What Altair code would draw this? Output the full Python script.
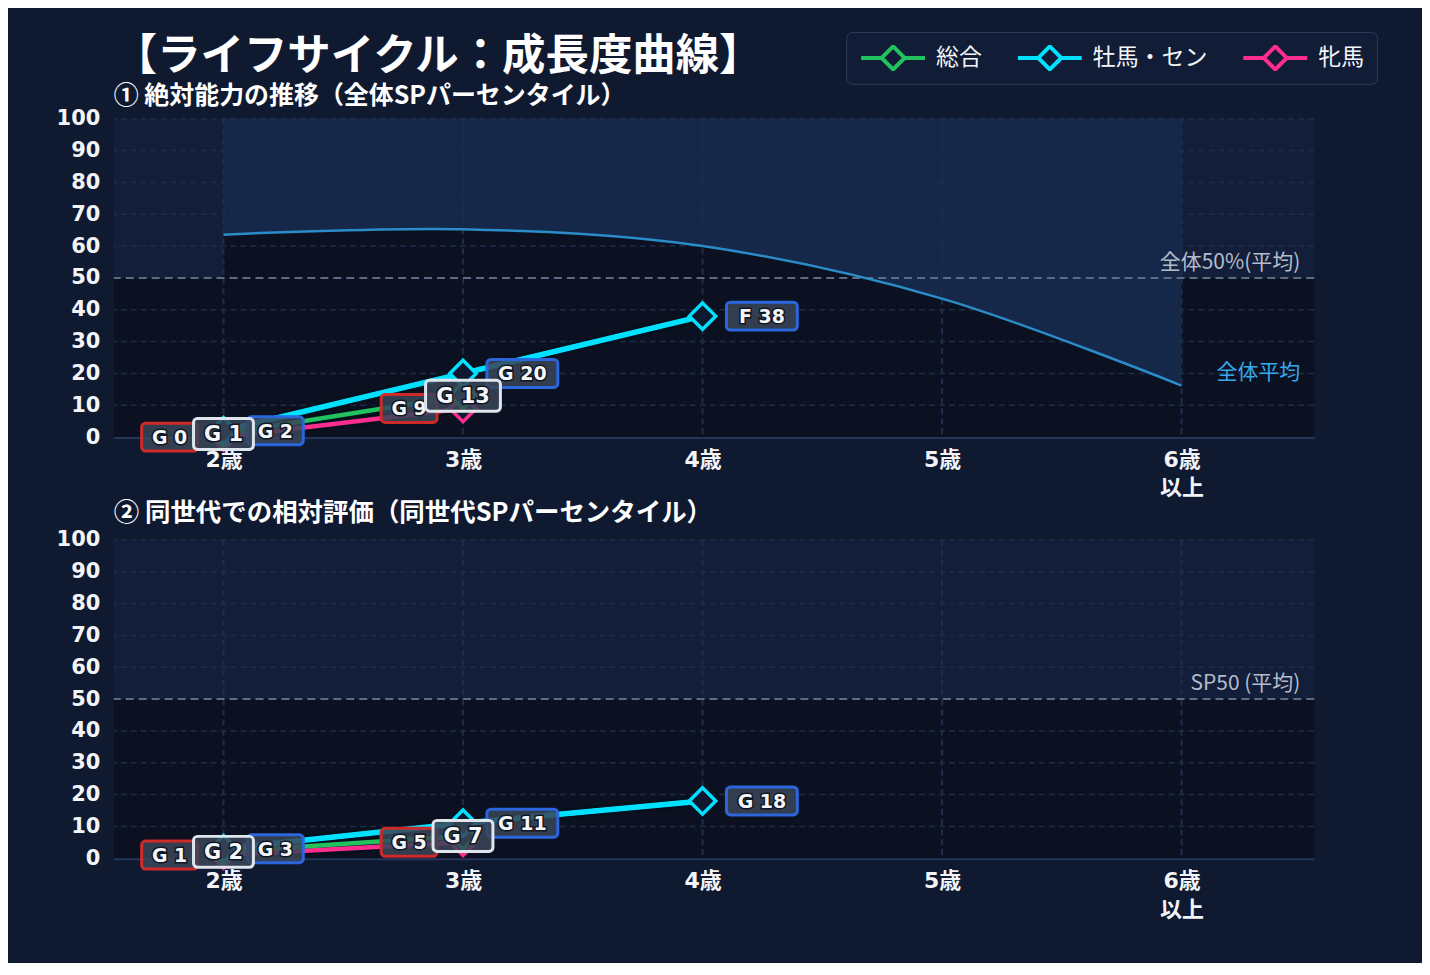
import json
import altair as alt
import pandas as pd

# ---------------- data ----------------
SERIES = ["総合", "牡馬・セン", "牝馬"]
LINE_COLORS = ["#22c35e", "#00e1ff", "#ff2d8d"]
BOX_STROKES = {"総合": "#dfe5ec", "牡馬・セン": "#2b66dc", "牝馬": "#cf2a2a"}

TICK_AGES = [2, 3, 4, 5, 6]
TICK_LABELS = ["2歳", "3歳", "4歳", "5歳", "6歳\n以上"]
Y_TICKS = [0, 10, 20, 30, 40, 50, 60, 70, 80, 90, 100]
X_MIN, X_MAX = 1.542, 6.554

# panel 1: absolute ability (overall SP percentile)
abs_ages = {"総合": [2, 3], "牡馬・セン": [2, 3, 4], "牝馬": [2, 3]}
abs_vals = {"総合": [1, 13], "牡馬・セン": [2, 20, 38], "牝馬": [0, 9]}
abs_grades = {"総合": ["G", "G"], "牡馬・セン": ["G", "G", "F"], "牝馬": ["G", "G"]}

# overall average curve
curve_ages = [2, 3, 4, 5, 6]
curve_vals = [63.6, 65.3, 60.0, 43.5, 16.2]

# panel 2: relative within generation
rel_ages = {"総合": [2, 3], "牡馬・セン": [2, 3, 4], "牝馬": [2, 3]}
rel_vals = {"総合": [2, 7], "牡馬・セン": [3, 11, 18], "牝馬": [1, 5]}
rel_grades = {"総合": ["G", "G"], "牡馬・セン": ["G", "G", "G"], "牝馬": ["G", "G"]}

TITLE = "【ライフサイクル：成長度曲線】"
SUB1 = "① 絶対能力の推移（全体SPパーセンタイル）"
SUB2 = "② 同世代での相対評価（同世代SPパーセンタイル）"

# ---------------- style ----------------
BG = "#0f1a30"
UPPER = "#131f3a"
LOWER = "#0b1121"
LIGHT = "#15284a"
GRID = "#1e2c49"
JP = "Noto Sans CJK JP"
NUM = "DejaVu Sans, Noto Sans CJK JP"
CURVE_INTERP = "cardinal"


def make_df(ages, vals, grades):
    rows = []
    for s in ["牝馬", "総合", "牡馬・セン"]:
        for a, v, g in zip(ages[s], vals[s], grades[s]):
            rows.append({"age": a, "value": v, "series": s, "label": f"{g} {v}"})
    return pd.DataFrame(rows)


label_map = {str(k): v.replace("\n", "|") for k, v in zip(TICK_AGES, TICK_LABELS)}
x_label_expr = "split(" + json.dumps(label_map, ensure_ascii=False) + "[datum.value + ''], '|')"

xscale = alt.Scale(domain=[X_MIN, X_MAX], nice=False, zero=False)
yscale = alt.Scale(domain=[0, 100], nice=False, zero=False)
x_axis = alt.Axis(values=TICK_AGES, labelExpr=x_label_expr, labelFontSize=22, labelFontWeight="bold",
                  labelColor="#f2f4f8", labelFont=NUM, labelPadding=12, tickSize=0,
                  domainColor="#25365a", domainWidth=3, grid=False, title=None,
                  labelLineHeight=29, labelBaseline="top")
y_axis = alt.Axis(values=Y_TICKS, labelFontSize=21, labelFontWeight="bold", labelColor="#f2f4f8",
                  labelFont=NUM, labelPadding=14, tickSize=0, domain=False, grid=False, title=None)


def X(field):
    return alt.X(field, type="quantitative", scale=xscale, axis=x_axis)


def Y(field):
    return alt.Y(field, type="quantitative", scale=yscale, axis=y_axis)


def panel(df, ref_text, curve=None, legend=None, headers=None, title=None):
    layers = []
    bands = pd.DataFrame({"x0": [X_MIN, X_MIN], "x1": [X_MAX, X_MAX], "y0": [50, 0], "y1": [100, 50],
                          "band": ["upper", "lower"]})
    layers.append(alt.Chart(bands).transform_filter("datum.band == 'upper'").mark_rect(color=UPPER)
                  .encode(x=X("x0"), x2="x1", y=Y("y0"), y2="y1"))
    layers.append(alt.Chart(bands).transform_filter("datum.band == 'lower'").mark_rect(color=LOWER)
                  .encode(x=X("x0"), x2="x1", y=Y("y0"), y2="y1"))
    if curve is not None:
        cdf = pd.DataFrame({"age": curve[0], "val": curve[1]})
        layers.append(alt.Chart(cdf).mark_area(interpolate=CURVE_INTERP, color=LIGHT)
                      .encode(x=X("age"), y=Y("val"), y2=alt.datum(100)))
        layers.append(alt.Chart(cdf).mark_area(interpolate=CURVE_INTERP, color=LOWER)
                      .encode(x=X("age"), y=Y("val"), y2=alt.datum(0)))
    hgrid = pd.DataFrame({"v": [t for t in Y_TICKS if t not in (0, 50)]})
    layers.append(alt.Chart(hgrid).mark_rule(color=GRID, strokeDash=[6, 4], strokeWidth=1.5)
                  .encode(y=Y("v")))
    vgrid = pd.DataFrame({"v": TICK_AGES})
    layers.append(alt.Chart(vgrid).mark_rule(color=GRID, strokeDash=[6, 4], strokeWidth=2.2)
                  .encode(x=X("v")))
    layers.append(alt.Chart(pd.DataFrame({"v": [50]})).mark_rule(color="#5f6b85", strokeDash=[8, 5], strokeWidth=2)
                  .encode(y=Y("v")))
    layers.append(alt.Chart(pd.DataFrame({"t": [ref_text], "x": [X_MAX], "y": [50]}))
                  .mark_text(align="right", baseline="bottom", dx=-14, dy=-5, fontSize=21, font=JP,
                             color="#b4bccb")
                  .encode(x=X("x"), y=Y("y"), text="t:N"))
    if curve is not None:
        cdf = pd.DataFrame({"age": curve[0], "val": curve[1]})
        layers.append(alt.Chart(cdf).mark_line(interpolate=CURVE_INTERP, color="#2a8cc8", strokeWidth=2.5)
                      .encode(x=X("age"), y=Y("val")))
        layers.append(alt.Chart(pd.DataFrame({"t": ["全体平均"], "x": [X_MAX], "y": [20]}))
                      .mark_text(align="right", baseline="middle", dx=-14, fontSize=21, font=JP, color="#38a8ec")
                      .encode(x=X("x"), y=Y("y"), text="t:N"))

    base = alt.Chart(df)
    # glow / shadow
    layers.append(base.mark_line(strokeWidth=11, color="#03101c", opacity=0.55)
                  .encode(x=X("age"), y=Y("value"), detail="series:N"))
    cenc = alt.Color("series:N", scale=alt.Scale(domain=SERIES, range=LINE_COLORS),
                     legend=legend if legend is not None else None)
    layers.append(base.mark_line(strokeWidth=4.5).encode(x=X("age"), y=Y("value"), color=cenc))
    layers.append(base.transform_filter("datum.series == '牡馬・セン'")
                  .mark_line(strokeWidth=5.5, color=LINE_COLORS[1])
                  .encode(x=X("age"), y=Y("value")))
    layers.append(base.mark_point(shape="diamond", size=700, filled=True, fill="#0e1830", strokeWidth=3.5, opacity=1)
                  .encode(x=X("age"), y=Y("value"),
                          stroke=alt.Stroke("series:N", scale=alt.Scale(domain=SERIES, range=LINE_COLORS),
                                            legend=None)))

    # value labels
    specs = {
        "牝馬": dict(anchor="right", gap=-26, h=28, w3=56, w4=71, fs=19),
        "牡馬・セン": dict(anchor="left", gap=24, h=28, w3=56, w4=71, fs=19),
        "総合": dict(anchor="center", gap=0, h=31, w3=60, w4=75, fs=21),
    }
    for s in ["牝馬", "牡馬・セン", "総合"]:
        sp = specs[s]
        for cond, w in [("length(datum.label) <= 3", sp["w3"]), ("length(datum.label) > 3", sp["w4"])]:
            if sp["anchor"] == "right":
                x0, x1 = sp["gap"] - w, sp["gap"]
            elif sp["anchor"] == "left":
                x0, x1 = sp["gap"], sp["gap"] + w
            else:
                x0, x1 = -w / 2, w / 2
            cx = (x0 + x1) / 2
            sub = base.transform_filter(f"datum.series == '{s}'").transform_filter(cond)
            layers.append(sub.mark_rect(fill="#394659", fillOpacity=0.86, stroke=BOX_STROKES[s], strokeWidth=3,
                                        cornerRadius=4, xOffset=x0, x2Offset=x1,
                                        yOffset=sp["h"] / 2, y2Offset=-sp["h"] / 2)
                          .encode(x=X("age"), x2="age", y=Y("value"), y2="value"))
            layers.append(sub.mark_text(dx=cx, dy=1, fontSize=sp["fs"], fontWeight="bold", font="DejaVu Sans",
                                        color="#111722", stroke="#111722", strokeWidth=3, baseline="middle")
                          .encode(x=X("age"), y=Y("value"), text="label:N"))
            layers.append(sub.mark_text(dx=cx, dy=1, fontSize=sp["fs"], fontWeight="bold", font="DejaVu Sans",
                                        color="#f4f6fa", baseline="middle")
                          .encode(x=X("age"), y=Y("value"), text="label:N"))

    # header texts (main title and section subtitle) placed above the plot area
    if headers is not None:
        for text, size, ypix in headers:
            layers.append(alt.Chart(pd.DataFrame({"t": [text]}))
                          .mark_text(align="left", baseline="middle", fontSize=size, fontWeight="bold",
                                     font=JP, color="#ffffff")
                          .encode(x=alt.value(0), y=alt.value(ypix), text="t:N"))

    props = dict(width=1203, height=319)
    if title is not None:
        props["title"] = title
    return alt.layer(*layers).properties(**props)


SYMBOL = "M-1,0H-0.36M0.36,0H1M0,-0.36L0.36,0L0,0.36L-0.36,0Z"
legend = alt.Legend(title=None, orient="none", legendX=734, legendY=-87, direction="horizontal",
                    symbolType=SYMBOL, symbolSize=4096, symbolStrokeWidth=4, symbolFillColor="transparent",
                    labelFontSize=23, labelColor="#f4f6fa", labelFont=JP, labelOffset=9,
                    fillColor="#111d36", strokeColor="#2b3b5a", cornerRadius=6, padding=13,
                    columnPadding=34, clipHeight=26)

df1 = make_df(abs_ages, abs_vals, abs_grades)
df2 = make_df(rel_ages, rel_vals, rel_grades)

t2 = alt.TitleParams(text=SUB2, anchor="start", frame="group", fontSize=25.5, fontWeight="bold", font=JP,
                     color="#ffffff", offset=2)

p1 = panel(df1, "全体50%(平均)", curve=(curve_ages, curve_vals), legend=legend,
           headers=[(TITLE, 43.5, -62), (SUB1, 25, -23)])
p2 = panel(df2, "SP50 (平均)", title=t2)

chart = (alt.vconcat(p1, p2, spacing=2)
         .resolve_scale(color="independent", stroke="independent")
         .resolve_legend(color="independent", stroke="independent")
         .properties(background=BG, padding={"left": 48, "top": 22, "right": 44, "bottom": 42})
         .configure_view(stroke=None))

chart.save("out.html", embed_options={"renderer": "svg", "actions": False})
